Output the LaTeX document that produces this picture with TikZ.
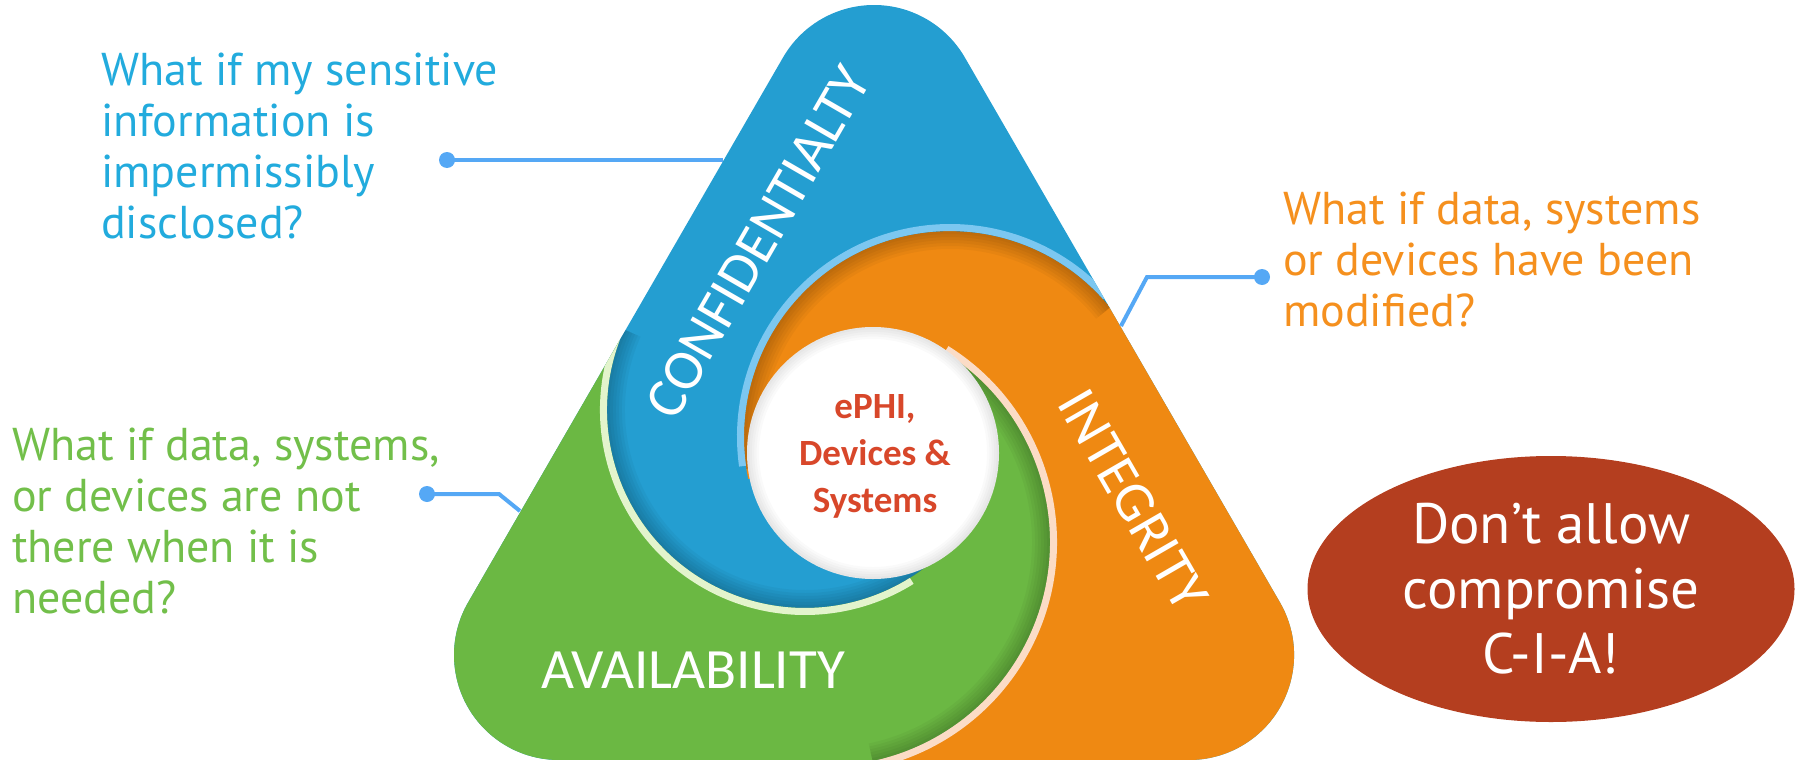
\documentclass[tikz,border=0pt]{standalone}
\usepackage{fontspec}
\setmainfont{PT Sans}
\newfontfamily\calfont{Carlito}
\usetikzlibrary{calc,shapes.geometric}
\definecolor{cblue}{HTML}{249ED1}
\definecolor{corange}{HTML}{EF8912}
\definecolor{cgreen}{HTML}{6BB843}
\definecolor{tblue}{HTML}{22ABDD}
\definecolor{torange}{HTML}{F5901E}
\definecolor{tgreen}{HTML}{72BF4A}
\definecolor{lineblue}{HTML}{55A8F5}
\definecolor{cred}{HTML}{B43E1F}
\definecolor{ctext}{HTML}{D8472A}
\definecolor{rimblue}{HTML}{7CC7F0}
\definecolor{rimgreen}{HTML}{E3F4CC}
\definecolor{rimpeach}{HTML}{FBDCC6}
\begin{document}
\begin{tikzpicture}[x=1pt,y=-1pt,
  qtext/.style={inner sep=0pt, anchor=north west, align=left, font=\fontsize{46}{51}\selectfont},
  lbl/.style={text=white, inner sep=0pt, font=\calfont\fontsize{57}{60}\selectfont},
  dot/.style={circle, fill=lineblue, minimum size=16pt, inner sep=0pt},
  conn/.style={draw=lineblue, line width=4pt},
  rim/.style={line width=7pt},
  shade/.style={draw=black, opacity=0.035}
]
\useasboundingbox (0,0) rectangle (1796,760);
\coordinate (W) at (873,453);
\coordinate (C1) at (950,437);
\coordinate (C2) at (826,542);
\coordinate (C3) at (805,410);

\begin{scope}
\clip (783,57.5) arc[start angle=-150,end angle=-30,radius=105] -- (1280,602.5)
  arc[start angle=-30,end angle=90,radius=105] -- (559,760)
  arc[start angle=90,end angle=210,radius=105] -- cycle;
% blue base (confidentiality)
\fill[cblue] (-10,-10) rectangle (1800,800);
% orange region (integrity)
\fill[corange] (W) -- (748.2,478.9) arc[start angle=168.3,end angle=320.9,radius=206]
  -- (1500,307.1) -- (1500,800) -- (877.5,800) -- (877.5,760)
  arc[start angle=76.7,end angle=-62.2,radius=224] -- cycle;
% green region (availability)
\fill[cgreen] (W) -- (930.5,343.8) arc[start angle=-62.2,end angle=76.7,radius=224]
  -- (877.5,800) -- (300,800) -- (300,335.8) -- (621.4,335.8)
  arc[start angle=202,end angle=53.1,radius=198] -- cycle;
% soft inner shadows along the overlapping edges
\foreach \k in {1,...,6}{
  \draw[shade, line width=3*\k pt] (C1) ++(171:206-1.5*\k) arc[start angle=171,end angle=321,radius=206-1.5*\k];
  \draw[shade, line width=3*\k pt] (C2) ++(-59:224-1.5*\k) arc[start angle=-59,end angle=78,radius=224-1.5*\k];
  \draw[shade, line width=3*\k pt] (C3) ++(204:198-1.5*\k) arc[start angle=204,end angle=52,radius=198-1.5*\k];
}
% rims
\draw[rim, rimblue] (C1) ++(172:209.5) arc[start angle=172,end angle=318,radius=209.5];
\draw[rim, rimpeach] (C2) ++(-58:227.5) arc[start angle=-58,end angle=77,radius=227.5];
\draw[rim, rimgreen] (C3) ++(201:201.5) arc[start angle=201,end angle=58,radius=201.5];
% white core with a faint inner shadow
\fill[white] (W) circle[radius=126];
\foreach \k in {1,...,5}{
  \draw[draw=black, opacity=0.018, line width=2.4*\k pt] (W) circle[radius=126-1.2*\k];
}
\end{scope}

% labels
\node[lbl, rotate=60] (conf) at (758,242) {CONFIDENTIALTY};
\node[lbl, rotate=-60] (integ) at (1133,500) {INTEGRITY};
\node[lbl] (avail) at (693,670) {AVAILABILITY};
\node[font=\calfont\bfseries\fontsize{37}{47}\selectfont, text=ctext, align=center, inner sep=0pt] (core) at (875,456) {ePHI,\\Devices \&\\Systems};

% questions
\node[qtext, text=tblue] (qc) at (101,53) {What if my sensitive\\information is\\impermissibly\\disclosed?};
\node[qtext, text=torange] (qi) at (1283,192) {What if data, systems\\or devices have been\\modified?};
\node[qtext, text=tgreen] (qa) at (12,428) {What if data, systems,\\or devices are not\\there when it is\\needed?};

% connectors
\coordinate (e1) at (723,160);
\coordinate (k2) at (1147,277);
\coordinate (e2) at (1121,326);
\coordinate (k3) at (499,494);
\coordinate (e3) at (520,511);
\node[dot] (d1) at (447,160) {};
\node[dot] (d2) at (1262,277) {};
\node[dot] (d3) at (427,494) {};
\draw[conn] (d1.center) -- (e1);
\draw[conn] (d2.center) -- (k2) -- (e2);
\draw[conn] (d3.center) -- (k3) -- (e3);

% message
\node[ellipse, fill=cred, minimum width=487pt, minimum height=266pt, inner sep=0pt, text=white, align=center, font=\fontsize{57}{65}\selectfont] (cia) at (1551,589) {Don’t allow\\compromise\\C-I-A!};
\end{tikzpicture}
\end{document}
